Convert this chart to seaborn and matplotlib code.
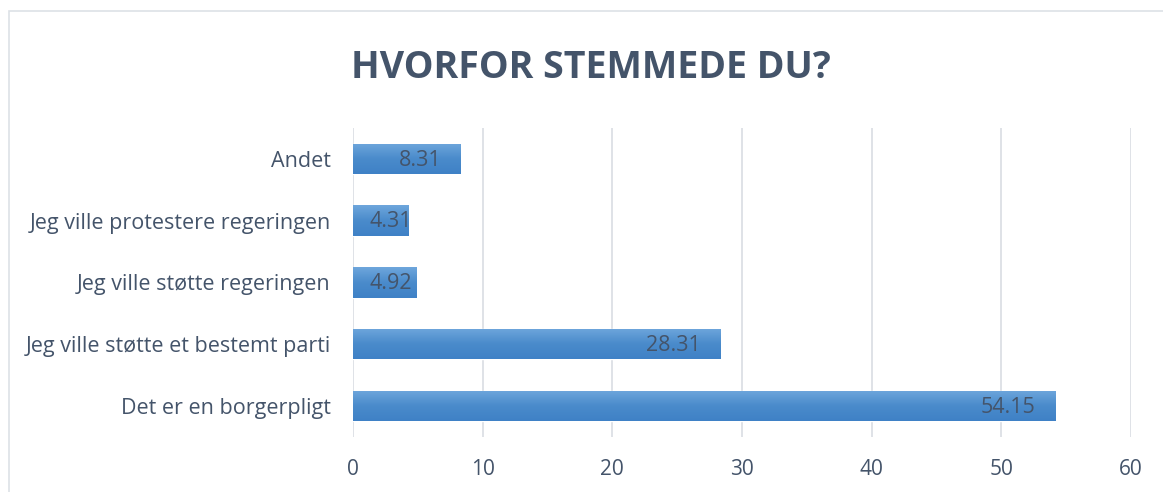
import numpy as np
import pandas as pd
import seaborn as sns
import matplotlib.pyplot as plt
from matplotlib.colors import LinearSegmentedColormap
from matplotlib.patches import Rectangle

# --- data ---
categories = ['Andet', 'Jeg ville protestere regeringen', 'Jeg ville støtte regeringen',
              'Jeg ville støtte et bestemt parti', 'Det er en borgerpligt']
values = [8.31, 4.31, 4.92, 28.31, 54.15]
x_ticks = [0, 10, 20, 30, 40, 50, 60]

df = pd.DataFrame({'reason': categories, 'pct': values})

text_col = '#44546A'
grid_col = '#D9DDE3'

sns.set_style('white')
plt.rcParams['font.family'] = ['Open Sans', 'DejaVu Sans']

fig = plt.figure(figsize=(11.63, 4.92), dpi=100)
ax = fig.add_axes([0.3035, 0.112, 0.669, 0.628])

sns.barplot(data=df, x='pct', y='reason', color='#5B9BD5', width=0.49,
            orient='h', ax=ax, zorder=2)

# gradient fill on each bar
cmap = LinearSegmentedColormap.from_list('bar', ['#6EA6DC', '#4A8BCB', '#3F81C6'])
grad = np.linspace(0, 1, 64).reshape(-1, 1)
for p in ax.patches:
    x0, y0 = p.get_x(), p.get_y()
    w, h = p.get_width(), p.get_height()
    im = ax.imshow(grad, cmap=cmap, aspect='auto', extent=[x0, x0 + w, y0 + h, y0],
                   zorder=3, origin='upper')
    im.set_clip_path(p)
    p.set_facecolor('none')

# value labels inside bar ends (pushed right of the axis for short bars)
for p, v in zip(ax.patches, values):
    yc = p.get_y() + p.get_height() / 2 + 0.02
    if v < 7:
        ax.text(1.3, yc, f'{v:.2f}', ha='left', va='center', fontsize=15.5,
                color=text_col, zorder=4)
    else:
        ax.text(p.get_x() + p.get_width() - 1.5, yc, f'{v:.2f}', ha='right',
                va='center', fontsize=15.5, color=text_col, zorder=4)

ax.set_xlim(0, 60)
ax.set_ylim(4.5, -0.5)
ax.set_xticks(x_ticks)
ax.xaxis.grid(True, color=grid_col, linewidth=1.2, zorder=0)
ax.set_axisbelow(True)
for s in ax.spines.values():
    s.set_visible(False)
ax.tick_params(axis='x', labelsize=15, labelcolor=text_col, length=0, pad=16)
ax.tick_params(axis='y', labelsize=15.5, labelcolor=text_col, length=0, pad=16)
ax.set_xlabel('')
ax.set_ylabel('')

fig.text(0.508, 0.862, 'HVORFOR STEMMEDE DU?', ha='center', va='center',
         fontsize=27, fontweight='bold', color=text_col)

# chart border
fig.patches.append(Rectangle((0.008, -0.02), 1.05, 0.998, transform=fig.transFigure,
                             fill=False, edgecolor='#DDE1E6', linewidth=1.2))

fig.savefig('out.png', dpi=100)
